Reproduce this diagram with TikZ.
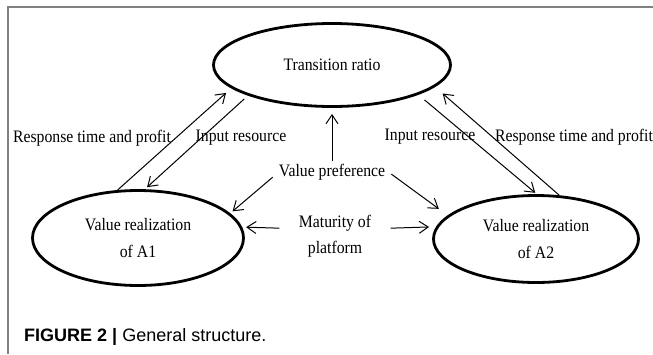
\documentclass[tikz,border=0pt]{standalone}
\usepackage{fontspec}
\setmainfont[FakeStretch=0.9]{Liberation Serif}
\newfontfamily\capfont{Liberation Sans}
\usetikzlibrary{shapes.geometric,arrows.meta}

\tikzset{
  >={Straight Barb[length=9pt,width=12pt]},
  bubble/.style={draw,ellipse,line width=2.8pt,align=center,font=\fontsize{17.5}{27}\selectfont},
  lbl/.style={font=\fontsize{17.5}{20}\selectfont,inner sep=1pt},
  link/.style={->,line width=1pt}
}

\begin{document}
\begin{tikzpicture}[x=1pt,y=-1pt]
\useasboundingbox (0,0) rectangle (653,354);
\draw[black!50,line width=1.5pt] (8,354) -- (8,7) -- (653,7);

\node[bubble,minimum width=237pt,minimum height=83pt] (tr) at (332,65) {Transition ratio};
\node[bubble,minimum width=211pt,minimum height=95pt] (vra) at (138,238) {Value realization\\of A1};
\node[bubble,minimum width=205pt,minimum height=87pt] (vrb) at (536,239) {Value realization\\of A2};

\node[lbl,inner xsep=6pt,inner ysep=3pt] (pref) at (332,172) {Value preference};
\node[lbl,align=center,minimum width=111pt,font=\fontsize{17.5}{26}\selectfont] (mat) at (335,236) {Maturity of\\platform};

\node[lbl] (rtpa) at (92,138) {Response time and profit};
\node[lbl] (ira) at (241,138) {Input resource};
\node[lbl] (irb) at (430,137) {Input resource};
\node[lbl] (rtpb) at (574,137) {Response time and profit};

% left pair
\draw[link,shorten >=7pt] (vra.113) -- (tr.193);
\draw[link,shorten <=5pt,shorten >=3pt] (tr.200) -- (vra.82);
% right pair
\draw[link,shorten <=8pt,shorten >=2pt] (tr.341) -- (vrb.89);
\draw[link,shorten >=10pt] (vrb.62) -- (tr.348);

\draw[link,shorten >=6pt] (pref) -- (tr);
\draw[link,shorten >=3pt] (pref.185) -- (vra.15);
\draw[link,shorten >=11pt] (pref.358) -- (vrb.165);

\draw[link,shorten >=4pt] (mat.172) -- (vra.6);
\draw[link,shorten >=7pt] (mat.8) -- (vrb.173);

\node[anchor=base west,inner sep=0pt,font=\capfont\fontsize{18}{20}\selectfont] (cap) at (24,341.5) {\textbf{FIGURE 2 |} General structure.};
\end{tikzpicture}
\end{document}
